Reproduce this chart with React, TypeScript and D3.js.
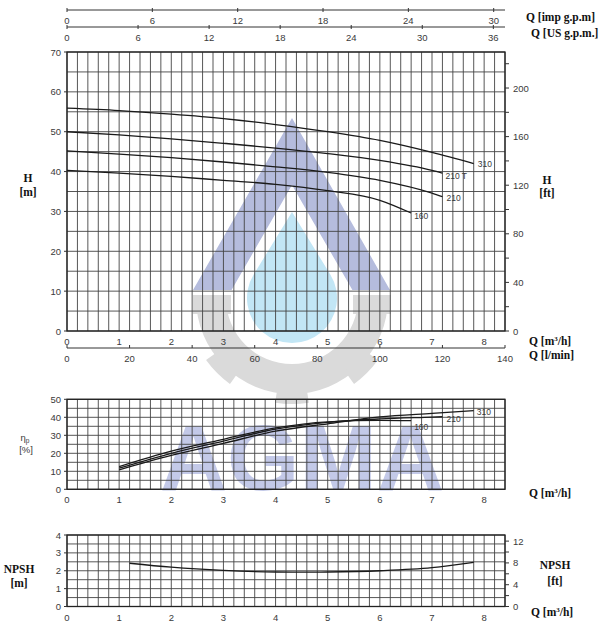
import * as d3 from 'd3';

// pump head curves, Q in m3/h, H in m
const q310 = [0, 1, 2, 3, 4, 5, 6, 7, 7.8];
const h310 = [55.9, 55.3, 54.4, 53.3, 51.8, 50, 47.8, 44.8, 42];
const q210T = [0, 1, 2, 3, 4, 5, 6, 7, 7.2];
const h210T = [50, 49.2, 48.2, 47.1, 45.9, 44.5, 42.8, 40.3, 39.6];
const q210 = [0, 1, 2, 3, 4, 5, 6, 7, 7.2];
const h210 = [45.2, 44.4, 43.5, 42.4, 41.2, 39.8, 37.8, 34.6, 33.7];
const q160 = [0, 1, 2, 3, 4, 5, 6, 6.6];
const h160 = [40.3, 39.6, 38.8, 37.8, 36.8, 35.2, 32.8, 29.6];

// efficiency curves, %
const qEff310 = [1, 2, 3, 4, 5, 6, 7, 7.8];
const eff310 = [10.8, 18.8, 25.5, 32.3, 36.4, 40.2, 42.2, 43.7];
const qEff210 = [1, 2, 3, 4, 5, 6, 7, 7.2];
const eff210 = [11.7, 20, 26.8, 33.4, 37.2, 39.1, 40.1, 40.3];
const qEff160 = [1, 2, 3, 4, 5, 6, 6.6];
const eff160 = [12.6, 21.2, 27.8, 34.1, 37.5, 38.3, 38.1];

// NPSH curve, m
const qNpsh = [1.2, 2, 3, 4, 4.5, 5, 6, 7, 7.8];
const npsh = [2.42, 2.2, 2.02, 1.93, 1.92, 1.93, 2.0, 2.17, 2.47];

const qTicks = [0, 1, 2, 3, 4, 5, 6, 7, 8];
const lminTicks = [0, 20, 40, 60, 80, 100, 120, 140];
const impTicks = [0, 6, 12, 18, 24, 30];
const usTicks = [0, 6, 12, 18, 24, 30, 36];
const hTicks = [0, 10, 20, 30, 40, 50, 60, 70];
const ftTicks = [0, 40, 80, 120, 160, 200];
const effTicks = [0, 10, 20, 30, 40, 50];
const npshTicks = [0, 1, 2, 3, 4];
const npshFtTicks = [0, 4, 8, 12];

const sans = 'Liberation Sans, Arial, sans-serif';
const serif = 'Liberation Serif, Times New Roman, serif';
const tickCol = '#3a3a3a';
const gridCol = '#444';

const x = d3.scaleLinear().domain([0, 8.4]).range([67, 505]);
const yH = d3.scaleLinear().domain([0, 70]).range([331, 52]);
const yFt = d3.scaleLinear().domain([0, 70 / 0.3048]).range([331, 52]);
const yEff = d3.scaleLinear().domain([0, 50]).range([489.3, 399.3]);
const yN = d3.scaleLinear().domain([0, 4]).range([606.5, 535]);
const yNFt = d3.scaleLinear().domain([0, 4 / 0.3048]).range([606.5, 535]);
const xLmin = d3.scaleLinear().domain([0, 140]).range([67, 505]);
const xImp = d3.scaleLinear().domain([0, 8.4 * 3.666]).range([67, 505]);
const xUs = d3.scaleLinear().domain([0, 8.4 * 4.403]).range([67, 505]);

const zip = (a: number[], b: number[]) => a.map((v, i) => [v, b[i]] as [number, number]);

function Grid({ y, step, max }: { y: d3.ScaleLinear<number, number>; step: number; max: number }) {
  const vs = d3.range(0, 8.4001, 0.2);
  const hs = d3.range(0, max + 0.0001, step);
  const [y0, y1] = [y(0), y(max)];
  return (
    <g>
      {vs.map((v, i) => (
        <line key={'v' + i} x1={x(v)} x2={x(v)} y1={y0} y2={y1} stroke={gridCol} strokeWidth={0.9} />
      ))}
      {hs.map((v, i) => (
        <line key={'h' + i} x1={x(0)} x2={x(8.4)} y1={y(v)} y2={y(v)} stroke={gridCol} strokeWidth={0.9} />
      ))}
      <rect x={x(0)} y={y1} width={x(8.4) - x(0)} height={y0 - y1} fill="none" stroke="#222" strokeWidth={1.3} />
    </g>
  );
}

function Curve({ pts, y }: { pts: [number, number][]; y: d3.ScaleLinear<number, number> }) {
  const line = d3
    .line<[number, number]>()
    .x((d) => x(d[0]))
    .y((d) => y(d[1]))
    .curve(d3.curveMonotoneX);
  return <path d={line(pts) || ''} fill="none" stroke="#1a1a1a" strokeWidth={1.3} />;
}

function Watermark() {
  const cx = 292;
  const cy = 298;
  const ring = d3.arc()({ innerRadius: 66, outerRadius: 96, startAngle: Math.PI / 2, endAngle: (3 * Math.PI) / 2 }) || '';
  const teeth = [(3 * Math.PI) / 4, Math.PI, (5 * Math.PI) / 4].map(
    (a) => d3.arc()({ innerRadius: 90, outerRadius: 106, startAngle: a - 0.16, endAngle: a + 0.16 }) || ''
  );
  return (
    <g>
      <path d="M292,118 L390,290 L352.4,290 L292,185 L231.6,290 L193,290 Z" fill="#b5bcdd" />
      <g transform={`translate(${cx},${cy})`} fill="#dadada">
        <path d={ring} />
        {teeth.map((t, i) => (
          <path key={i} d={t} />
        ))}
      </g>
      <rect x={193} y={295} width={38} height={19} fill="#dadada" />
      <rect x={353} y={295} width={38} height={19} fill="#dadada" />
      <path d="M292,212 L330.3,274.5 A45,45 0 1,1 253.7,274.5 Z" fill="#c2e6f5" />
      <text x={302} y={490} textAnchor="middle" fontFamily={sans} fontWeight="bold" fontSize={93} fill="#c3c9e8">
        AGMA
      </text>
    </g>
  );
}

export default function App() {
  const lbl = { fontFamily: sans, fontSize: 9.5, fill: tickCol } as const;
  const ttl = { fontFamily: serif, fontSize: 11.5, fontWeight: 'bold', fill: '#111' } as const;
  const hFtMinor = d3.range(0, 221, 20);
  const nFtMinor = d3.range(0, 13, 2);
  return (
    <svg width={600} height={634} style={{ position: 'absolute', left: 0, top: 0, background: '#fff' }}>
      <Watermark />

      {/* top flow axes */}
      <line x1={67} x2={505} y1={10} y2={10} stroke="#333" strokeWidth={1} />
      {impTicks.map((t) => (
        <g key={'i' + t}>
          <line x1={xImp(t)} x2={xImp(t)} y1={8} y2={12} stroke="#333" />
          <text x={xImp(t)} y={24} textAnchor="middle" {...lbl}>{t}</text>
        </g>
      ))}
      <line x1={67} x2={505} y1={27} y2={27} stroke="#333" strokeWidth={1} />
      {usTicks.map((t) => (
        <g key={'u' + t}>
          <line x1={xUs(t)} x2={xUs(t)} y1={25} y2={29} stroke="#333" />
          <text x={xUs(t)} y={40.5} textAnchor="middle" {...lbl}>{t}</text>
        </g>
      ))}
      <text x={526} y={21} {...ttl}>Q [imp g.p.m]</text>
      <text x={531} y={37} {...ttl}>Q [US g.p.m.]</text>

      {/* head chart */}
      <Grid y={yH} step={5} max={70} />
      {hTicks.map((t) => (
        <g key={'h' + t}>
          <line x1={64} x2={67} y1={yH(t)} y2={yH(t)} stroke="#333" />
          <text x={61} y={yH(t) + 3.5} textAnchor="end" {...lbl}>{t}</text>
        </g>
      ))}
      {hFtMinor.map((t) => (
        <line key={'f' + t} x1={505} x2={509} y1={yFt(t)} y2={yFt(t)} stroke="#333" />
      ))}
      {ftTicks.map((t) => (
        <text key={'ft' + t} x={513} y={yFt(t) + 3.5} {...lbl}>{t}</text>
      ))}
      {qTicks.map((t) => (
        <text key={'q' + t} x={x(t)} y={345} textAnchor="middle" {...lbl}>{t}</text>
      ))}
      <line x1={67} x2={505} y1={348} y2={348} stroke="#333" />
      {lminTicks.map((t) => (
        <g key={'l' + t}>
          <line x1={xLmin(t)} x2={xLmin(t)} y1={345} y2={348} stroke="#333" />
          <text x={xLmin(t)} y={361.5} textAnchor="middle" {...lbl}>{t}</text>
        </g>
      ))}
      <Curve pts={zip(q310, h310)} y={yH} />
      <Curve pts={zip(q210T, h210T)} y={yH} />
      <Curve pts={zip(q210, h210)} y={yH} />
      <Curve pts={zip(q160, h160)} y={yH} />
      <text x={x(7.8) + 4} y={yH(42) + 3} fontFamily={sans} fontSize={8.5} fill={tickCol}>310</text>
      <text x={x(7.2) + 3} y={yH(39.6) + 6} fontFamily={sans} fontSize={8.5} fill={tickCol}>210 T</text>
      <text x={x(7.2) + 4} y={yH(33.7) + 4} fontFamily={sans} fontSize={8.5} fill={tickCol}>210</text>
      <text x={x(6.6) + 3} y={yH(29.6) + 6} fontFamily={sans} fontSize={8.5} fill={tickCol}>160</text>
      <text x={28} y={182} textAnchor="middle" {...ttl}>H</text>
      <text x={28} y={196} textAnchor="middle" {...ttl}>[m]</text>
      <text x={547} y={184} textAnchor="middle" {...ttl}>H</text>
      <text x={547} y={197} textAnchor="middle" {...ttl}>[ft]</text>
      <text x={529} y={345} {...ttl}>
        Q [m<tspan fontSize={7} dy={-4}>3</tspan><tspan dy={4}>/h]</tspan>
      </text>
      <text x={529} y={359} {...ttl}>Q [l/min]</text>

      {/* efficiency chart */}
      <Grid y={yEff} step={5} max={50} />
      {effTicks.map((t) => (
        <g key={'e' + t}>
          <line x1={64} x2={67} y1={yEff(t)} y2={yEff(t)} stroke="#333" />
          <text x={61} y={yEff(t) + 3.5} textAnchor="end" {...lbl}>{t}</text>
        </g>
      ))}
      {qTicks.map((t) => (
        <text key={'eq' + t} x={x(t)} y={502.5} textAnchor="middle" {...lbl}>{t}</text>
      ))}
      <Curve pts={zip(qEff310, eff310)} y={yEff} />
      <Curve pts={zip(qEff210, eff210)} y={yEff} />
      <Curve pts={zip(qEff160, eff160)} y={yEff} />
      <text x={x(7.8) + 3} y={yEff(43.7) + 4} fontFamily={sans} fontSize={8.5} fill={tickCol}>310</text>
      <text x={x(7.2) + 4} y={yEff(40.3) + 5} fontFamily={sans} fontSize={8.5} fill={tickCol}>210</text>
      <text x={x(6.6) + 3} y={yEff(38.1) + 9} fontFamily={sans} fontSize={8.5} fill={tickCol}>160</text>
      <text x={25} y={441} textAnchor="middle" fontFamily={sans} fontSize={9.5} fill={tickCol}>
        η<tspan fontSize={6.5} dy={2}>p</tspan>
      </text>
      <text x={26} y={453} textAnchor="middle" fontFamily={sans} fontSize={9.5} fill={tickCol}>[%]</text>
      <text x={529} y={497} {...ttl}>
        Q [m<tspan fontSize={7} dy={-4}>3</tspan><tspan dy={4}>/h]</tspan>
      </text>

      {/* NPSH chart */}
      <Grid y={yN} step={0.5} max={4} />
      {npshTicks.map((t) => (
        <g key={'n' + t}>
          <line x1={64} x2={67} y1={yN(t)} y2={yN(t)} stroke="#333" />
          <text x={61} y={yN(t) + 3.5} textAnchor="end" {...lbl}>{t}</text>
        </g>
      ))}
      {nFtMinor.map((t) => (
        <line key={'nf' + t} x1={505} x2={509} y1={yNFt(t)} y2={yNFt(t)} stroke="#333" />
      ))}
      {npshFtTicks.map((t) => (
        <text key={'nft' + t} x={513} y={yNFt(t) + 3.5} {...lbl}>{t}</text>
      ))}
      {qTicks.map((t) => (
        <text key={'nq' + t} x={x(t)} y={621} textAnchor="middle" {...lbl}>{t}</text>
      ))}
      <Curve pts={zip(qNpsh, npsh)} y={yN} />
      <text x={19} y={573} textAnchor="middle" {...ttl}>NPSH</text>
      <text x={19} y={587} textAnchor="middle" {...ttl}>[m]</text>
      <text x={555} y={569} textAnchor="middle" {...ttl}>NPSH</text>
      <text x={555} y={585} textAnchor="middle" {...ttl}>[ft]</text>
      <text x={531} y={616} {...ttl}>
        Q [m<tspan fontSize={7} dy={-4}>3</tspan><tspan dy={4}>/h]</tspan>
      </text>
    </svg>
  );
}
